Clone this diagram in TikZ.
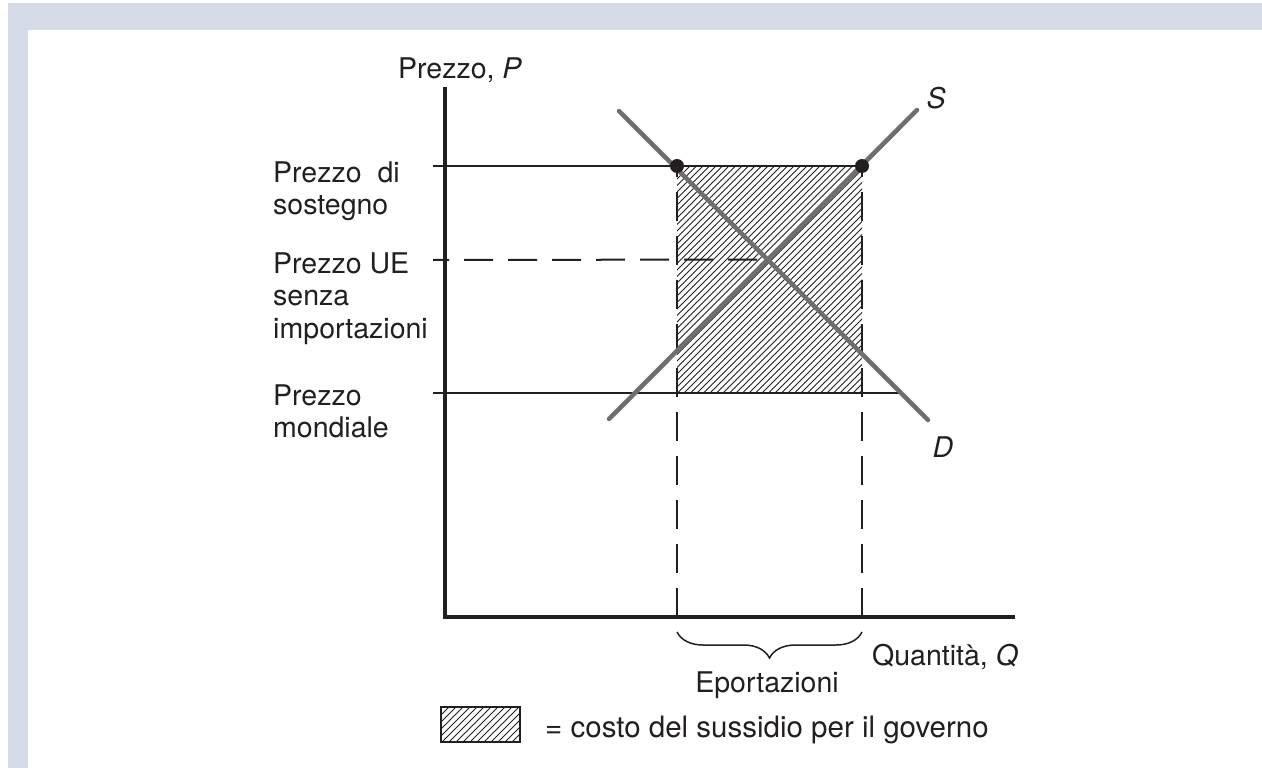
\documentclass[tikz,border=0pt]{standalone}
\usepackage{fontspec}
\setmainfont{TeX Gyre Heros}
\usetikzlibrary{decorations.pathreplacing}
\definecolor{ink}{HTML}{231F20}
\definecolor{curvegray}{HTML}{6D6E71}
\definecolor{framecol}{HTML}{D5DCE8}
\tikzset{
  lbl/.style={font=\fontsize{28.5}{32.5}\selectfont, text=ink, inner sep=0pt, align=left},
  axisline/.style={draw=ink, line width=3.5pt},
  priceline/.style={draw=ink, line width=2pt},
  dashline/.style={draw=ink, line width=2pt, dash pattern=on 29pt off 15pt},
  curveline/.style={draw=curvegray, line width=4.5pt, line cap=round},
  hatchline/.style={draw=ink, line width=1pt},
  dotnode/.style={circle, fill=ink, inner sep=0pt, minimum size=14pt},
  bracestyle/.style={draw=ink, line width=1.5pt, decorate, decoration={brace, amplitude=26pt}},
}
\begin{document}
\begin{tikzpicture}[x=1pt,y=-1pt]
\useasboundingbox (0,0) rectangle (1262,768);
\fill[white] (0,0) rectangle (1262,768);
\fill[framecol] (8,3) rectangle (1262,30);
\fill[framecol] (8,3) rectangle (28,768);

% key points
\coordinate (O) at (445,617);
\coordinate (Ytop) at (445,87);
\coordinate (Xend) at (1015,617);
\coordinate (sup0) at (433,166);
\coordinate (A) at (677,166);
\coordinate (B) at (862,166);
\coordinate (eu0) at (433,260);
\coordinate (E) at (767.5,259.5);
\coordinate (w0) at (433,393);
\coordinate (C) at (677,393);
\coordinate (Dp) at (862,393);
\coordinate (w1) at (901,393);
\coordinate (A0) at (677,617);
\coordinate (B0) at (862,617);
\coordinate (Dtop) at (619,111);
\coordinate (Dbot) at (928,420);
\coordinate (Stop) at (917,110);
\coordinate (Sbot) at (609,419);
\coordinate (br1) at (677,632);
\coordinate (br2) at (862,632);
\coordinate (L1) at (441,707);
\coordinate (L2) at (520,742);

% hatched area
\begin{scope}
  \clip (A) rectangle (Dp);
  \foreach \i in {450,456.5,...,866} \draw[hatchline] (\i,393) -- ++(240,-240);
\end{scope}

% axes
\draw[axisline] (Ytop) -- (O) -- (Xend);

% price lines
\draw[priceline] (sup0) -- (B);
\draw[priceline] (w0) -- (w1);
\draw[dashline, dash phase=13pt] (eu0) -- (E);
\draw[dashline] (A0) -- (A);
\draw[dashline] (B0) -- (B);

% demand and supply
\draw[curveline] (Dtop) -- (Dbot);
\draw[curveline] (Sbot) -- (Stop);

\node[dotnode] (dA) at (A) {};
\node[dotnode] (dB) at (B) {};

% brace
\draw[bracestyle] (br2) -- (br1);

% labels
\node[lbl, anchor=base west] (ylab) at (398,78) {Prezzo, \textit{P}};
\node[lbl, anchor=north west] (psup) at (273,161.5) {Prezzo\hspace{16pt}di\\sostegno};
\node[lbl, anchor=north west] (peu) at (273,252.5) {Prezzo UE\\senza\\importazioni};
\node[lbl, anchor=north west] (pw) at (273,384.5) {Prezzo\\mondiale};
\node[lbl] (Slab) at (936,98) {\textit{S}};
\node[lbl] (Dlab) at (943,447) {\textit{D}};
\node[lbl, anchor=base west] (qlab) at (872,665) {Quantità, \textit{Q}};
\node[lbl, anchor=base] (explab) at (767,692) {Eportazioni};

% legend
\begin{scope}
  \clip (L1) rectangle (L2);
  \foreach \i in {400,407,...,540} \draw[hatchline] (\i,742) -- ++(45,-45);
\end{scope}
\draw[draw=ink, line width=2pt] (L1) rectangle (L2);
\node[lbl, anchor=base west, font=\fontsize{29.5}{33}\selectfont] (legtxt) at (545,737) {= costo del sussidio per il governo};
\end{tikzpicture}
\end{document}
